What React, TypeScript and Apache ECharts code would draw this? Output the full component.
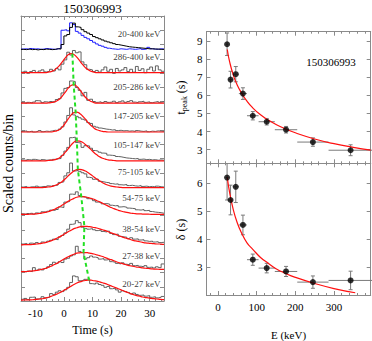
import React, { useEffect, useRef } from 'react';
import * as echarts from 'echarts';

const FONT = '"Liberation Serif", "Times New Roman", serif';
const FRAME = '#8a8a8a';

const GRB = '150306993';
const bandLabels = ['20-400 keV', '286-400 keV', '205-286 keV', '147-205 keV', '105-147 keV', '75-105 keV', '54-75 keV', '38-54 keV', '27-38 keV', '20-27 keV'];
// vertical offset of each stacked light curve (panel units)
const panelBase = [8.8, 8.01, 6.94, 5.93, 4.92, 3.98, 3.04, 1.97, 1.02, 0.03];
const timeTicks = [-10, 0, 10, 20, 30];
// left edges of the 1 s time bins, -15 ... 34
const binStart = Array.from({ length: 50 }, (_, i) => i - 15);

// light curves (hundredths of a panel)
const lc20_400Black = [3, 2, 4, 2, 3, 1, 3, 2, 4, 3, 2, 3, 5, 4, 20, 50, 55, 80, 95, 82, 80, 72, 65, 60, 55, 48, 44, 40, 36, 32, 29, 26, 23, 20, 18, 16, 14, 12, 11, 10, 9, 8, 7, 6, 5, 5, 4, 4, 3, 3];
const lc20_400Blue = [4, 5, 3, 6, 4, 5, 3, 4, 6, 5, 4, 3, 5, 7, 70, 72, 68, 96, 90, 66, 60, 52, 45, 40, 34, 28, 22, 17, 14, 10, 7, 5, 4, 3, 5, 4, 3, 5, 4, 3, 4, 6, 3, 4, 10, 5, 4, 3, 5, 4];
const lc286 = [2, 5, -2, 4, 8, 1, 6, 10, 3, 5, 12, 6, 15, 10, 30, 45, 72, 62, 78, 70, 73, 38, 28, 12, 10, 4, 8, 2, 10, 20, 5, 12, -2, 15, 6, 10, 18, 4, 12, 2, 22, 8, 14, 0, 12, 20, 6, 24, 10, 5];
const lc205 = [2, 0, 3, 1, 4, 9, 8, 2, 5, 3, 6, 4, 13, 16, 36, 52, 55, 78, 76, 55, 45, 26, 38, 10, 14, 6, 3, 5, 2, 6, 3, 4, 7, 2, 5, 8, 3, 6, 9, 4, 2, 5, 7, 3, 5, 2, 4, 6, 3, 5];
const lc147 = [2, 4, 1, 3, 0, 2, 5, 1, 3, 2, 4, 6, 5, 10, 18, 35, 58, 85, 60, 55, 50, 45, 42, 33, 30, 20, 17, 14, 12, 10, 9, 7, 8, 5, 6, 4, 5, 3, 4, 2, 5, 3, 2, 4, 1, 3, 2, 4, 3, 2];
const lc105 = [3, 1, 4, 2, 5, 3, 1, 4, 2, 3, 2, 5, 7, 8, 19, 34, 47, 81, 83, 64, 62, 47, 53, 52, 44, 36, 34, 30, 27, 26, 20, 19, 18, 15, 14, 12, 10, 9, 8, 7, 8, 5, 6, 4, 5, 3, 4, 2, 3, 2];
const lc75 = [2, 4, 1, 3, 2, 5, 2, 4, 3, 6, 4, 7, 9, 18, 20, 41, 52, 86, 58, 60, 57, 52, 48, 36, 34, 29, 30, 22, 20, 18, 17, 14, 12, 13, 10, 9, 11, 7, 8, 6, 5, 7, 4, 5, 3, 4, 2, 5, 3, 2];
const lc54 = [2, 0, 3, 4, 1, 5, 3, 9, 8, 11, 15, 14, 17, 26, 24, 43, 45, 71, 70, 79, 66, 62, 60, 55, 54, 48, 43, 42, 37, 38, 36, 32, 30, 31, 26, 27, 25, 22, 21, 20, 16, 15, 17, 13, 14, 10, 8, 7, 6, 4];
const lc38 = [3, 5, 2, 6, 4, 8, 5, 10, 8, 13, 16, 20, 18, 28, 33, 42, 55, 72, 74, 85, 78, 62, 58, 55, 57, 53, 50, 52, 47, 45, 48, 40, 36, 38, 30, 28, 27, 22, 25, 20, 21, 17, 18, 14, 12, 13, 10, 11, 8, 9];
const lc27 = [2, 0, 3, 1, 15, 6, 10, 7, 12, 18, 26, 34, 30, 36, 33, 45, 48, 56, 60, 90, 72, 68, 45, 50, 56, 52, 50, 45, 47, 42, 44, 36, 34, 30, 28, 32, 27, 25, 30, 22, 23, 20, 18, 22, 16, 17, 14, 18, 15, 28];
const lc20 = [3, 6, 2, 10, 11, 4, 5, 12, 8, 10, 23, 20, 28, 33, 30, 36, 45, 62, 85, 82, 68, 70, 73, 75, 58, 56, 60, 55, 52, 45, 48, 40, 42, 36, 28, 33, 30, 27, 22, 25, 20, 17, 18, 14, 16, 10, 12, 8, 10, 13];

// pulse fits, sampled at bin centres (hundredths of a panel)
const fit286 = [0, 0, 0, 0, 0, 0, 0, 0, 0, 2, 4, 8, 16, 26, 39, 52, 63, 67, 64, 55, 42, 29, 18, 10, 5, 2, 0, 0, 0, 0, 0, 0, 0, 0, 0, 0, 0, 0, 0, 0, 0, 0, 0, 0, 0, 0, 0, 0, 0, 0];
const fit205 = [0, 0, 0, 0, 0, 0, 0, 0, 0, 1, 2, 4, 8, 15, 26, 39, 53, 62, 65, 59, 48, 34, 21, 12, 6, 2, 0, 0, 0, 0, 0, 0, 0, 0, 0, 0, 0, 0, 0, 0, 0, 0, 0, 0, 0, 0, 0, 0, 0, 0];
const fit147 = [0, 0, 0, 0, 0, 0, 0, 0, 0, 0, 0, 2, 4, 9, 18, 31, 46, 59, 68, 70, 65, 56, 45, 33, 23, 14, 8, 5, 2, 1, 0, 0, 0, 0, 0, 0, 0, 0, 0, 0, 0, 0, 0, 0, 0, 0, 0, 0, 0, 0];
const fit105 = [0, 0, 0, 0, 0, 0, 0, 0, 0, 1, 2, 3, 6, 11, 19, 30, 42, 55, 65, 70, 69, 65, 57, 48, 39, 29, 21, 14, 9, 6, 3, 2, 1, 0, 0, 0, 0, 0, 0, 0, 0, 0, 0, 0, 0, 0, 0, 0, 0, 0];
const fit75 = [0, 0, 0, 0, 0, 0, 0, 0, 1, 2, 3, 6, 10, 15, 22, 31, 41, 50, 58, 63, 64, 62, 58, 52, 45, 37, 30, 23, 17, 12, 8, 5, 3, 2, 1, 0, 0, 0, 0, 0, 0, 0, 0, 0, 0, 0, 0, 0, 0, 0];
const fit54 = [0, 0, 0, 1, 1, 2, 3, 5, 7, 9, 13, 17, 22, 27, 33, 39, 46, 51, 56, 60, 62, 62, 61, 59, 56, 53, 48, 44, 39, 34, 29, 24, 20, 16, 13, 10, 8, 6, 4, 3, 2, 2, 1, 1, 1, 0, 0, 0, 0, 0];
const fit38 = [0, 1, 1, 1, 2, 3, 4, 6, 8, 11, 14, 18, 23, 28, 34, 40, 46, 51, 57, 60, 63, 65, 65, 64, 63, 61, 59, 56, 53, 50, 46, 42, 39, 35, 31, 27, 24, 21, 18, 15, 13, 11, 9, 7, 6, 5, 4, 3, 3, 2];
const fit27 = [1, 1, 2, 3, 4, 5, 7, 10, 12, 16, 20, 25, 30, 36, 42, 48, 53, 58, 62, 66, 67, 68, 68, 67, 65, 63, 60, 57, 54, 50, 46, 43, 39, 35, 32, 29, 26, 23, 21, 19, 17, 16, 14, 13, 12, 11, 10, 10, 9, 9];
const fit20 = [0, 1, 1, 1, 2, 3, 4, 5, 7, 10, 13, 17, 21, 26, 31, 37, 43, 49, 55, 60, 64, 67, 69, 70, 70, 68, 67, 64, 61, 58, 54, 50, 46, 42, 38, 34, 30, 26, 22, 19, 16, 14, 11, 9, 8, 6, 5, 4, 3, 2];

const bandCurves = [lc286, lc205, lc147, lc105, lc75, lc54, lc38, lc27, lc20];
const bandFits = [fit286, fit205, fit147, fit105, fit75, fit54, fit38, fit27, fit20];

// right panels, energy ascending (20-27 ... 286-400 keV)
const eLow = [20, 27, 38, 54, 75, 105, 147, 205, 286];
const eHigh = [27, 38, 54, 75, 105, 147, 205, 286, 400];
const eCentre = [23.5, 32.5, 46, 64.5, 90, 126, 176, 245.5, 343];
const tPeak = [8.81, 6.86, 7.16, 6.09, 4.87, 4.54, 4.1, 3.42, 2.97];
const tPeakErr = [0.62, 0.46, 0.42, 0.32, 0.23, 0.18, 0.18, 0.23, 0.3];
const delta = [6.19, 5.39, 5.86, 4.5, 3.26, 2.96, 2.84, 2.46, 2.52];
const deltaErr = [0.8, 0.53, 0.56, 0.35, 0.2, 0.17, 0.18, 0.22, 0.33];
const tFitE = [24, 30, 40, 50, 60, 75, 90, 110, 130, 150, 175, 200, 250, 300, 350, 395];
const tFitV = [8.52, 7.85, 7.08, 6.55, 6.15, 5.67, 5.3, 4.92, 4.63, 4.39, 4.14, 3.93, 3.59, 3.33, 3.13, 2.98];
const dFitE = [24, 30, 40, 50, 60, 75, 90, 110, 130, 150, 175, 200, 250, 300, 355];
const dFitV = [6.2, 5.66, 5.02, 4.57, 4.24, 3.86, 3.63, 3.34, 3.13, 2.94, 2.77, 2.63, 2.41, 2.23, 2.08];

function stepData(vals: number[], base: number) {
  const d = vals.map((v, i) => [binStart[i], base + v / 100]);
  d.push([binStart[binStart.length - 1] + 1, base + vals[vals.length - 1] / 100]);
  return d;
}
function fitData(vals: number[], base: number) {
  const d = vals.map((v, i) => [binStart[i] + 0.5, base + v / 100]);
  d.unshift([binStart[0], base + vals[0] / 100]);
  d.push([binStart[binStart.length - 1] + 1, base + vals[vals.length - 1] / 100]);
  return d;
}

const tickStyle = { inside: true, length: 4, lineStyle: { color: FRAME, width: 1 } };
const minorStyle = { show: true, splitNumber: 5, length: 2, lineStyle: { color: FRAME, width: 1 } };
const lineStyle = { lineStyle: { color: FRAME, width: 1 } };
const labelFont = { fontFamily: FONT, fontSize: 11, color: '#000' };

function xAx(gridIndex: number, min: number, max: number, position: string, labels: boolean, extra: any = {}) {
  return {
    type: 'value', gridIndex, min, max, position,
    axisLine: { show: true, onZero: false, ...lineStyle },
    axisTick: tickStyle, minorTick: minorStyle, splitLine: { show: false },
    axisLabel: { show: labels, margin: 6, showMinLabel: false, showMaxLabel: false, ...labelFont },
    ...extra,
  };
}
function yAx(gridIndex: number, min: number, max: number, position: string, labels: boolean, extra: any = {}) {
  return {
    type: 'value', gridIndex, min, max, position,
    axisLine: { show: true, onZero: false, ...lineStyle },
    axisTick: tickStyle, splitLine: { show: false },
    axisLabel: { show: labels, margin: 4, showMinLabel: false, showMaxLabel: false, ...labelFont },
    ...extra,
  };
}

function errorBars(xAxisIndex: number, yAxisIndex: number, vals: number[], errs: number[]) {
  return {
    type: 'custom', xAxisIndex, yAxisIndex, clip: true, z: 3,
    data: eCentre.map((e, i) => [e, vals[i], eLow[i], eHigh[i], vals[i] - errs[i], vals[i] + errs[i]]),
    encode: { x: 0, y: 1 },
    renderItem: (params: any, api: any) => {
      const c = api.coord([api.value(0), api.value(1)]);
      const l = api.coord([api.value(2), api.value(1)]);
      const h = api.coord([api.value(3), api.value(1)]);
      const lo = api.coord([api.value(0), api.value(4)]);
      const hi = api.coord([api.value(0), api.value(5)]);
      const style = { stroke: '#7a7a7a', lineWidth: 1 };
      const cap = 2;
      return {
        type: 'group',
        children: [
          { type: 'line', shape: { x1: l[0], y1: c[1], x2: h[0], y2: c[1] }, style },
          { type: 'line', shape: { x1: c[0], y1: lo[1], x2: c[0], y2: hi[1] }, style },
          { type: 'line', shape: { x1: c[0] - cap, y1: lo[1], x2: c[0] + cap, y2: lo[1] }, style },
          { type: 'line', shape: { x1: c[0] - cap, y1: hi[1], x2: c[0] + cap, y2: hi[1] }, style },
        ],
      };
    },
  };
}

export default function App() {
  const ref = useRef<HTMLDivElement>(null);
  useEffect(() => {
    if (!ref.current) return;
    const chart = echarts.init(ref.current, undefined, { renderer: 'svg' });
    const series: any[] = [];
    const L = { xAxisIndex: 0, yAxisIndex: 0 };
    // top panel: 20-400 keV
    series.push({ type: 'line', ...L, step: 'end', symbol: 'none', data: stepData(lc20_400Blue, panelBase[0]), lineStyle: { color: '#1f1fff', width: 1 }, z: 2 });
    series.push({ type: 'line', ...L, step: 'end', symbol: 'none', data: stepData(lc20_400Black, panelBase[0]), lineStyle: { color: '#000', width: 1 }, z: 3 });
    bandCurves.forEach((c, i) => {
      series.push({ type: 'line', ...L, step: 'end', symbol: 'none', data: stepData(c, panelBase[i + 1]), lineStyle: { color: '#505050', width: 0.9 }, z: 2 });
      series.push({ type: 'line', ...L, smooth: true, symbol: 'none', data: fitData(bandFits[i], panelBase[i + 1]), lineStyle: { color: '#ff1010', width: 1.2 }, z: 3 });
    });
    // peak-time track (green dashed), from the t_peak values
    const green = bandFits.map((f, i) => {
      const ei = eCentre.length - 1 - i;
      return [tPeak[ei], panelBase[i + 1] + Math.max(...f) / 100];
    });
    series.push({ type: 'line', ...L, symbol: 'none', data: green, lineStyle: { color: '#22e022', width: 2, type: [4, 3] }, z: 5 });
    series.push({
      type: 'scatter', ...L, symbolSize: 0.1, itemStyle: { color: 'transparent' }, z: 6,
      data: bandLabels.map((name, i) => ({ name, value: [33.8, panelBase[i] + 0.56] })),
      label: { show: true, position: 'left', distance: 0, formatter: '{b}', fontFamily: FONT, fontSize: 9, color: '#000' },
    });
    // right top: t_peak
    series.push(errorBars(2, 2, tPeak, tPeakErr));
    series.push({ type: 'line', xAxisIndex: 2, yAxisIndex: 2, smooth: true, symbol: 'none', data: tFitE.map((e, i) => [e, tFitV[i]]), lineStyle: { color: '#ff1010', width: 1.2 }, z: 4 });
    series.push({ type: 'scatter', xAxisIndex: 2, yAxisIndex: 2, symbolSize: 6, itemStyle: { color: '#000' }, data: eCentre.map((e, i) => [e, tPeak[i]]), z: 5 });
    // right bottom: delta
    series.push(errorBars(4, 4, delta, deltaErr));
    series.push({ type: 'line', xAxisIndex: 4, yAxisIndex: 4, smooth: true, symbol: 'none', data: dFitE.map((e, i) => [e, dFitV[i]]), lineStyle: { color: '#ff1010', width: 1.2 }, z: 4 });
    series.push({ type: 'scatter', xAxisIndex: 4, yAxisIndex: 4, symbolSize: 6, itemStyle: { color: '#000' }, data: eCentre.map((e, i) => [e, delta[i]]), z: 5 });

    chart.setOption({
      animation: false,
      backgroundColor: '#fff',
      grid: [
        { left: 21, top: 16, width: 143, height: 295 },
        { left: 206.4, top: 31.7, width: 164.3, height: 131.6 },
        { left: 206.4, top: 163.3, width: 164.3, height: 132.7 },
      ],
      xAxis: [
        xAx(0, -15, 35, 'bottom', true, {
          name: 'Time (s)', nameLocation: 'middle', nameGap: 23,
          nameTextStyle: { fontFamily: FONT, fontSize: 12, color: '#000' },
          axisLabel: { show: true, margin: 6, ...labelFont, formatter: (v: number) => (timeTicks.includes(v) ? String(v) : '') },
        }),
        xAx(0, -15, 35, 'top', false),
        xAx(1, -30, 395, 'bottom', false),
        xAx(1, -30, 395, 'top', false),
        xAx(2, -30, 395, 'bottom', true, {
          name: 'E (keV)', nameLocation: 'middle', nameGap: 34,
          nameTextStyle: { fontFamily: FONT, fontSize: 11, color: '#000' },
        }),
        xAx(2, -30, 395, 'top', false),
      ],
      yAxis: [
        yAx(0, 0, 10, 'left', false, { interval: 0.5 }),
        yAx(0, 0, 10, 'right', false, { interval: 0.5 }),
        yAx(1, 2.25, 9.5, 'left', true, { splitNumber: 7 }),
        yAx(1, 2.25, 9.5, 'right', false, { splitNumber: 7 }),
        yAx(2, 2, 6.7, 'left', true, { splitNumber: 5 }),
        yAx(2, 2, 6.7, 'right', false, { splitNumber: 5 }),
      ],
      graphic: [
        { type: 'text', x: 92.5, y: 8, style: { text: GRB, fontFamily: FONT, fontSize: 13, fill: '#000', align: 'center', verticalAlign: 'middle' } },
        { type: 'text', x: 331, y: 62, style: { text: GRB, fontFamily: FONT, fontSize: 11, fill: '#000', align: 'center', verticalAlign: 'middle' } },
        { type: 'text', x: 8, y: 163.5, rotation: Math.PI / 2, style: { text: 'Scaled counts/bin', fontFamily: FONT, fontSize: 14, fill: '#000', align: 'center', verticalAlign: 'middle' } },
        {
          type: 'text', x: 181, y: 97.5, rotation: Math.PI / 2,
          style: {
            text: '{a|t}{b|peak}{a| (s)}', align: 'center', verticalAlign: 'middle', fill: '#000',
            rich: {
              a: { fontFamily: FONT, fontSize: 12, lineHeight: 14, fill: '#000' },
              b: { fontFamily: FONT, fontSize: 8, lineHeight: 6, verticalAlign: 'bottom', fill: '#000' },
            },
          },
        },
        { type: 'text', x: 181, y: 229.5, rotation: Math.PI / 2, style: { text: 'δ (s)', fontFamily: FONT, fontSize: 12, fill: '#000', align: 'center', verticalAlign: 'middle' } },
      ],
      series,
    });
    return () => chart.dispose();
  }, []);
  return <div ref={ref} style={{ position: 'fixed', left: 0, top: 0, width: 372, height: 341, background: '#fff' }} />;
}
